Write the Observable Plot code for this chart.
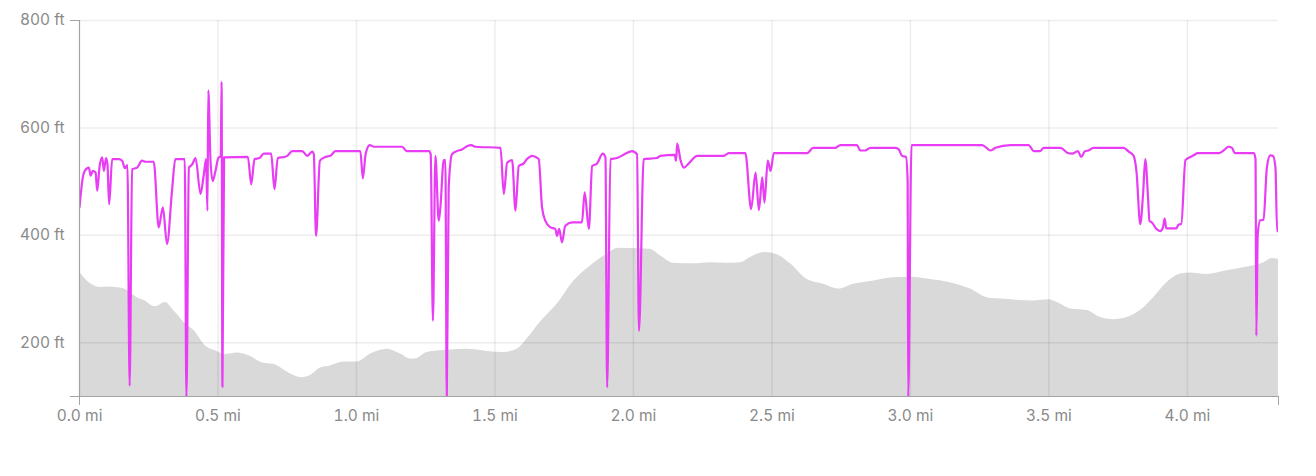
<!DOCTYPE html>
<html>
<head>
<meta charset="utf-8">
<script src="https://cdn.jsdelivr.net/npm/d3@7"></script>
<script src="https://cdn.jsdelivr.net/npm/@observablehq/plot@0.6"></script>
<style>
  html, body { margin: 0; padding: 0; background: #fff; }
  #chart svg { display: block; }
</style>
</head>
<body>
<div id="chart"></div>
<script>
// Elevation profile (grey area)
const elevMiles = [0.000,0.040,0.076,0.100,0.148,0.172,0.208,0.232,0.274,0.310,0.340,0.389,0.413,0.455,0.497,0.527,0.569,0.611,0.665,0.701,0.762,0.804,0.834,0.870,0.906,0.954,1.003,1.051,1.111,1.159,1.195,1.213,1.255,1.327,1.400,1.472,1.532,1.580,1.616,1.664,1.725,1.785,1.845,1.905,1.947,2.025,2.061,2.097,2.146,2.218,2.278,2.338,2.386,2.422,2.477,2.519,2.567,2.627,2.687,2.741,2.795,2.868,2.940,3.000,3.072,3.144,3.217,3.277,3.337,3.445,3.499,3.530,3.578,3.638,3.686,3.734,3.782,3.830,3.878,3.926,3.975,4.011,4.071,4.143,4.216,4.276,4.306,4.329];
const elevFeet  = [332,310,303,304,302,298,284,279,267,275,260,232,223,194,184,178,181,176,162,160,142,135,139,153,157,164,164,179,188,179,170,170,182,186,188,184,182,188,207,238,272,315,343,365,376,375,374,362,348,347,349,348,349,359,368,364,347,318,309,300,309,315,321,322,318,312,300,284,281,278,280,275,263,260,247,243,247,260,284,312,328,330,327,334,341,349,357,355];

// Second series (magenta line)
const lineMiles = [0.000,0.012,0.019,0.034,0.040,0.048,0.058,0.064,0.072,0.082,0.088,0.096,0.101,0.107,0.118,0.142,0.154,0.164,0.173,0.181,0.190,0.208,0.226,0.238,0.268,0.286,0.301,0.316,0.334,0.346,0.380,0.386,0.395,0.407,0.419,0.437,0.449,0.457,0.462,0.465,0.473,0.481,0.491,0.501,0.510,0.513,0.516,0.522,0.608,0.620,0.632,0.650,0.665,0.692,0.704,0.716,0.740,0.750,0.768,0.804,0.822,0.840,0.846,0.854,0.868,0.888,0.906,0.924,1.014,1.023,1.033,1.048,1.063,1.165,1.181,1.262,1.268,1.276,1.285,1.297,1.303,1.315,1.321,1.326,1.333,1.345,1.363,1.381,1.399,1.414,1.430,1.520,1.532,1.544,1.562,1.574,1.586,1.604,1.616,1.634,1.658,1.670,1.682,1.700,1.718,1.724,1.732,1.742,1.754,1.778,1.814,1.824,1.839,1.851,1.869,1.889,1.899,1.905,1.917,1.941,1.971,1.995,2.013,2.020,2.037,2.085,2.097,2.149,2.154,2.158,2.170,2.182,2.200,2.230,2.326,2.344,2.404,2.425,2.441,2.453,2.465,2.473,2.485,2.495,2.507,2.627,2.649,2.729,2.747,2.807,2.819,2.837,2.855,2.946,2.958,2.970,2.984,2.990,2.992,3.004,3.259,3.289,3.307,3.361,3.427,3.445,3.469,3.481,3.542,3.566,3.584,3.605,3.616,3.631,3.643,3.661,3.770,3.788,3.806,3.816,3.830,3.840,3.848,3.858,3.863,3.872,3.888,3.902,3.912,3.918,3.924,3.960,3.968,3.978,3.993,4.011,4.029,4.035,4.113,4.131,4.149,4.161,4.171,4.240,4.246,4.249,4.254,4.263,4.275,4.287,4.299,4.309,4.318,4.324,4.329];
const lineFeet  = [452,508,520,526,511,520,517,483,526,545,520,544,532,458,542,542,539,525,531,120,523,526,539,537,537,415,452,384,483,542,542,98,526,532,544,477,514,542,446,670,539,501,520,544,548,686,118,545,546,495,542,544,552,552,486,544,546,548,557,557,548,556,551,399,539,546,548,557,557,506,551,568,565,565,557,557,551,241,548,427,452,540,540,98,489,551,557,560,566,568,565,563,477,535,540,446,529,534,542,548,542,452,427,415,412,399,412,387,418,424,424,480,412,529,534,552,545,117,542,544,552,557,551,222,542,544,548,550,539,571,540,526,534,548,548,553,553,449,517,447,508,461,539,520,553,553,563,563,568,568,558,558,563,563,560,548,546,501,98,568,568,558,563,568,568,557,557,563,563,554,552,557,546,557,558,563,563,556,548,520,421,477,542,470,427,424,412,408,415,431,413,413,420,421,540,546,551,553,553,558,565,563,553,553,542,213,402,428,429,526,549,548,526,408,408];

// Axis ticks
const yTicks = [200, 400, 600, 800];
const xTicks = [0, 0.5, 1.0, 1.5, 2.0, 2.5, 3.0, 3.5, 4.0];
const yDomain = [100, 800];
const xDomain = [0, 4.329];

const elev = elevMiles.map((m, i) => ({mi: m, ft: elevFeet[i]}));
const series = lineMiles.map((m, i) => ({mi: m, ft: lineFeet[i]}));

const chart = Plot.plot({
  width: 1316,
  height: 476,
  marginLeft: 79,
  marginRight: 38,
  marginTop: 20,
  marginBottom: 80,
  style: {fontFamily: "Inter, sans-serif", fontSize: "15.5px", color: "#8a8a8a", background: "#fff"},
  x: {domain: xDomain},
  y: {domain: yDomain},
  marks: [
    Plot.areaY(elev, {x: "mi", y1: yDomain[0], y2: "ft", fill: "#d9d9d9", curve: "monotone-x"}),
    Plot.gridY(yTicks, {stroke: "#000", strokeOpacity: 0.07, strokeWidth: 1.5}),
    Plot.gridX(xTicks.slice(1), {stroke: "#000", strokeOpacity: 0.07, strokeWidth: 1.5}),
    Plot.line(series, {x: "mi", y: "ft", stroke: "#e83cf5", strokeWidth: 2.2, curve: "monotone-x", clip: true}),
    Plot.ruleX([xDomain[0]], {stroke: "#a3a3a3", strokeWidth: 1.2}),
    Plot.ruleY([yDomain[0]], {stroke: "#a3a3a3", strokeWidth: 1.2}),
    Plot.axisY(yDomain, {tickSize: 9, text: null, stroke: "#a3a3a3", label: null}),
    Plot.axisX(xDomain, {tickSize: 9, text: null, stroke: "#a3a3a3", label: null}),
    Plot.axisY(yTicks, {tickSize: 0, tickPadding: 15, tickFormat: d => `${d} ft`, label: null}),
    Plot.axisX(xTicks, {tickSize: 0, tickPadding: 13, tickFormat: d => `${d.toFixed(1)} mi`, label: null})
  ]
});
document.getElementById("chart").appendChild(chart);
</script>
</body>
</html>
